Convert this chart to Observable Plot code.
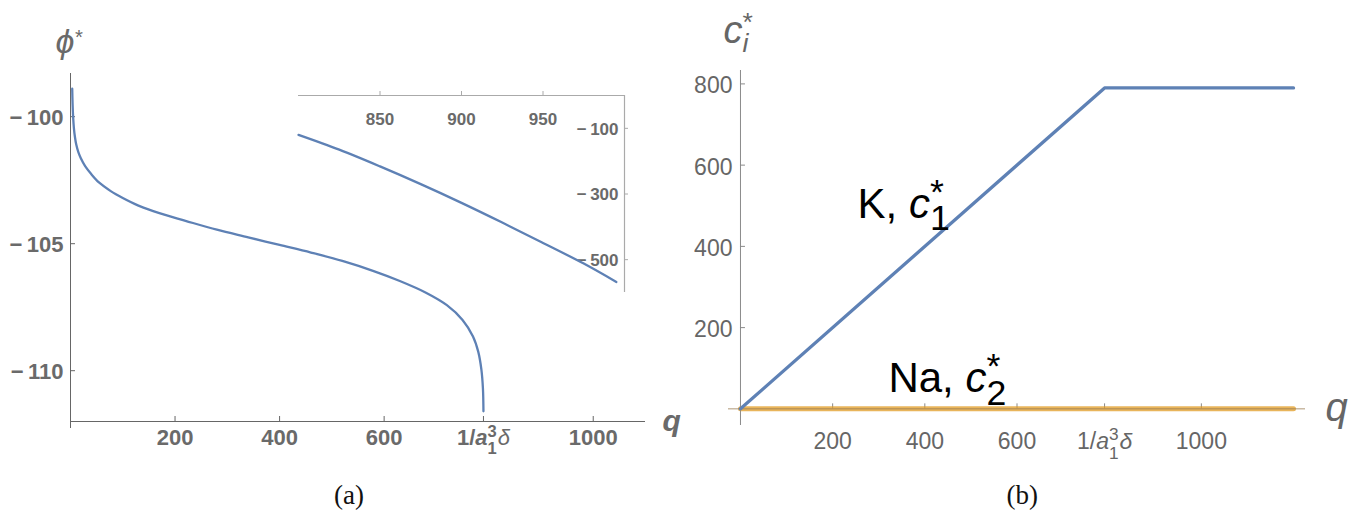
<!DOCTYPE html>
<html>
<head>
<meta charset="utf-8">
<script src="https://cdn.jsdelivr.net/npm/d3@7"></script>
<script src="https://cdn.jsdelivr.net/npm/@observablehq/plot@0.6"></script>
<style>
  html, body { margin: 0; padding: 0; background: #fff; }
  #root { position: relative; width: 1368px; height: 518px; overflow: hidden; background: #fff; }
  #root svg { position: absolute; }
  .cap { position: absolute; font-family: "Liberation Serif", "DejaVu Serif", serif; font-size: 27px; line-height: 27px; color: #111; white-space: nowrap; }
</style>
</head>
<body>
<div id="root"></div>
<script>
// ---------------- data ----------------
// Panel (a): potential phi* versus q
const phiQ = [3.3, 4, 5, 6.5, 8.5, 11, 15, 20, 28, 40, 55, 77, 100, 130, 170, 220, 280, 340, 400, 460, 520, 580, 630, 680, 720, 750, 770, 780, 786, 789, 790];
const phiV = [-98.9, -99.5, -100.0, -100.45, -100.8, -101.1, -101.4, -101.65, -101.95, -102.27, -102.6, -102.93, -103.2, -103.5, -103.8, -104.1, -104.45, -104.75, -105.05, -105.35, -105.68, -106.08, -106.47, -106.93, -107.42, -108.0, -108.65, -109.25, -109.95, -110.7, -111.6];
// Inset of panel (a)
const insetQ = [800, 825, 850, 875, 900, 925, 950, 975, 995];
const insetV = [-120, -165, -216, -270, -327, -387, -449, -512, -568];
// Panel (b): concentrations
const cQ  = [0, 790, 1200];
const cK  = [0, 790, 790];
const cNa = [0, 0, 0];

// tick values / labels
const aTicksX = [200, 400, 600, 790, 1000];
const aTickLabelsX = ["200", "400", "600", "1/a13δ", "1000"];
const aTicksY = [-100, -105, -110];
const insetTicksX = [850, 900, 950];
const insetTicksY = [-100, -300, -500];
const bTicksX = [200, 400, 600, 790, 1000];
const bTickLabelsX = ["200", "400", "600", "1/a13δ", "1000"];
const bTicksY = [200, 400, 600, 800];

// ---------------- style ----------------
const FONT = '"Liberation Sans", Arial, "DejaVu Sans", sans-serif';
const BLUE = "#5E81B5";
const ORANGE = "#E19C24";
const fmtNeg = d => d < 0 ? "\u2212\u2009" + Math.abs(d) : String(d);
const root = document.getElementById("root");

function place(svg, left, top) {
  svg.style.left = left + "px";
  svg.style.top = top + "px";
  root.appendChild(svg);
  return svg;
}

// rich text: replace a text element's content by tspans (italic, sub/superscripts)
function rich(svg, key, parts) {
  d3.select(svg).selectAll("text").filter(function () { return this.textContent === key; }).each(function () {
    const fs = parseFloat(getComputedStyle(this).fontSize);
    this.textContent = "";
    const t = d3.select(this);
    let cur = 0, lastLen = 0;
    for (const p of parts) {
      const off = (p.dy || 0) * fs;
      const s = t.append("tspan").text(p.t).attr("dy", off - cur);
      cur = off;
      if (p.it) s.attr("font-style", "italic");
      if (p.w) s.attr("font-weight", p.w);
      if (p.s) s.attr("font-size", p.s * fs);
      const dx = (p.back ? -lastLen : 0) + (p.dx || 0) * fs;
      if (dx) s.attr("dx", dx);
      lastLen = s.node().getComputedTextLength();
    }
  });
}

// ---------------- panel (a) ----------------
const A = {w: 684, h: 470, ml: 70, mr: 39, mt: 73, mb: 49};
const aInnerW = A.w - A.ml - A.mr, aInnerH = A.h - A.mt - A.mb;
const phiData = phiQ.map((q, i) => ({q, v: phiV[i]}));
const AXIS_A = "#666";
const LABEL_A = "#6a6a6a";

const plotA = Plot.plot({
  width: A.w, height: A.h,
  marginLeft: A.ml, marginRight: A.mr, marginTop: A.mt, marginBottom: A.mb,
  x: {domain: [0, 1100], axis: null},
  y: {domain: [-112, -98.3], axis: null},
  style: {background: "transparent", fontFamily: FONT, overflow: "visible"},
  marks: [
    Plot.ruleY([-112], {stroke: AXIS_A, strokeWidth: 1}),
    Plot.ruleX([0], {stroke: AXIS_A, strokeWidth: 1, insetBottom: -7}),
    Plot.tickX(aTicksX, {x: d => d, stroke: AXIS_A, insetTop: aInnerH - 5}),
    Plot.tickY(aTicksY, {y: d => d, stroke: AXIS_A, insetRight: aInnerW - 5}),
    Plot.text(aTicksX, {x: d => d, text: (d, i) => aTickLabelsX[i], frameAnchor: "bottom", dy: 23,
      fontSize: 22, fontWeight: "bold", fill: LABEL_A}),
    Plot.text(aTicksY, {y: d => d, text: fmtNeg, frameAnchor: "left", dx: -7, dy: 1, textAnchor: "end",
      fontSize: 22, fontWeight: "bold", fill: LABEL_A}),
    Plot.line(phiData, {x: "q", y: "v", stroke: BLUE, strokeWidth: 2.3, curve: "catmull-rom"}),
    Plot.text(["ϕ*"], {text: d => d, frameAnchor: "top-left", dx: -15, dy: -21, lineAnchor: "bottom",
      textAnchor: "start", fontSize: 34, fill: LABEL_A}),
    Plot.text(["q"], {text: d => d, frameAnchor: "bottom-right", dx: 17, dy: 9, lineAnchor: "bottom",
      textAnchor: "start", fontSize: 30, fontWeight: "bold", fontStyle: "italic", fill: LABEL_A})
  ]
});
place(plotA, 0, 0);
rich(plotA, "1/a13δ", [
  {t: "1/"}, {t: "a", it: true},
  {t: "1", s: 0.75, dy: 0.42},
  {t: "3", s: 0.75, dy: -0.33, back: true},
  {t: "δ", it: true, w: "normal", dx: 0.04}
]);
rich(plotA, "ϕ*", [{t: "ϕ", it: true}, {t: "*", s: 0.6, dy: -0.25, dx: 0.02}]);

// ---------------- inset of panel (a) ----------------
const I = {left: 250, top: 60, w: 400, h: 250, ml: 48, mr: 26, mt: 35, mb: 18};
const iInnerW = I.w - I.ml - I.mr, iInnerH = I.h - I.mt - I.mb;
const insetData = insetQ.map((q, i) => ({q, v: insetV[i]}));
const AXIS_I = "#aaa";

const plotI = Plot.plot({
  width: I.w, height: I.h,
  marginLeft: I.ml, marginRight: I.mr, marginTop: I.mt, marginBottom: I.mb,
  x: {domain: [800, 1000], axis: null},
  y: {domain: [-600, 0], axis: null},
  style: {background: "transparent", fontFamily: FONT, overflow: "visible"},
  marks: [
    Plot.ruleY([0], {stroke: AXIS_I, strokeWidth: 1.2}),
    Plot.ruleX([1000], {stroke: AXIS_I, strokeWidth: 1.2}),
    Plot.tickX(insetTicksX, {x: d => d, stroke: AXIS_I, insetTop: -4, insetBottom: iInnerH}),
    Plot.tickY(insetTicksY, {y: d => d, stroke: AXIS_I, insetRight: -4, insetLeft: iInnerW}),
    Plot.text(insetTicksX, {x: d => d, text: d => String(d), frameAnchor: "top", dy: 17.5,
      fontSize: 17, fontWeight: "bold", fill: LABEL_A}),
    Plot.text(insetTicksY, {y: d => d, text: fmtNeg, frameAnchor: "right", dx: -6, dy: 1, textAnchor: "end",
      fontSize: 17, fontWeight: "bold", fill: LABEL_A}),
    Plot.line(insetData, {x: "q", y: "v", stroke: BLUE, strokeWidth: 2.3, curve: "catmull-rom"})
  ]
});
place(plotI, I.left, I.top);

// ---------------- panel (b) ----------------
const B = {left: 684, w: 684, h: 470, ml: 44, mr: 63, mt: 70, mb: 45};
const bxDom = [-26, 1226], byDom = [-41, 833];
const bInnerW = B.w - B.ml - B.mr, bInnerH = B.h - B.mt - B.mb;
const tickLenY = 5 * (byDom[1] - byDom[0]) / bInnerH;
const tickLenX = 5 * (bxDom[1] - bxDom[0]) / bInnerW;
const kData = cQ.map((q, i) => ({q, v: cK[i]}));
const naData = cQ.map((q, i) => ({q, v: cNa[i]}));
const AXIS_B = "#8a8a8a";
const LABEL_B = "#666";

const plotB = Plot.plot({
  width: B.w, height: B.h,
  marginLeft: B.ml, marginRight: B.mr, marginTop: B.mt, marginBottom: B.mb,
  x: {domain: bxDom, axis: null},
  y: {domain: byDom, axis: null},
  style: {background: "transparent", fontFamily: FONT, overflow: "visible"},
  marks: [
    Plot.ruleX([0], {stroke: AXIS_B, strokeWidth: 1}),
    Plot.ruleX(bTicksX, {x: d => d, y1: 0, y2: tickLenY, stroke: AXIS_B}),
    Plot.ruleY(bTicksY, {y: d => d, x1: 0, x2: tickLenX, stroke: AXIS_B}),
    Plot.text(bTicksX, {x: d => d, y: 0, dy: 32.5, text: (d, i) => bTickLabelsX[i],
      fontSize: 23, fill: LABEL_B}),
    Plot.text(bTicksY, {y: d => d, x: 0, dx: -8, dy: 2, text: d => String(d), textAnchor: "end",
      fontSize: 23, fill: LABEL_B}),
    Plot.line(naData, {x: "q", y: "v", stroke: ORANGE, strokeWidth: 5, strokeOpacity: 0.75}),
    Plot.ruleY([0], {stroke: "#9a7a50", strokeWidth: 1, strokeOpacity: 0.8}),
    Plot.line(kData, {x: "q", y: "v", stroke: BLUE, strokeWidth: 3.3}),
    Plot.text(["K, c1*"], {text: d => d, x: 254, y: 471, textAnchor: "start", lineAnchor: "bottom",
      fontSize: 42, fill: "#000"}),
    Plot.text(["Na, c2*"], {text: d => d, x: 321, y: 41, textAnchor: "start", lineAnchor: "bottom",
      fontSize: 42, fill: "#000"}),
    Plot.text(["ci*"], {text: d => d, frameAnchor: "top-left", dx: -5, dy: -28, lineAnchor: "bottom",
      textAnchor: "start", fontSize: 38, fill: LABEL_B}),
    Plot.text(["q"], {text: d => d, frameAnchor: "bottom-right", dx: 20, dy: -5, lineAnchor: "bottom",
      textAnchor: "start", fontSize: 40, fontStyle: "italic", fill: LABEL_B})
  ]
});
place(plotB, B.left, 0);
rich(plotB, "1/a13δ", [
  {t: "1/"}, {t: "a", it: true},
  {t: "1", s: 0.75, dy: 0.45},
  {t: "3", s: 0.75, dy: -0.4, back: true},
  {t: "δ", it: true, dx: 0.04}
]);
rich(plotB, "K, c1*", [{t: "K, "}, {t: "c", it: true}, {t: "1", s: 0.85, dy: 0.3}, {t: "*", s: 0.85, dy: -0.33, back: true}]);
rich(plotB, "Na, c2*", [{t: "Na, "}, {t: "c", it: true}, {t: "2", s: 0.85, dy: 0.3}, {t: "*", s: 0.85, dy: -0.33, back: true}]);
rich(plotB, "ci*", [{t: "c", it: true}, {t: "i", it: true, s: 0.7, dy: 0.26}, {t: "*", s: 0.7, dy: -0.3, back: true}]);

// ---------------- captions ----------------
function caption(txt, cx) {
  const d = document.createElement("div");
  d.className = "cap";
  d.textContent = txt;
  root.appendChild(d);
  d.style.left = (cx - d.offsetWidth / 2) + "px";
  d.style.top = "482px";
}
caption("(a)", 349);
caption("(b)", 1022);
</script>
</body>
</html>
